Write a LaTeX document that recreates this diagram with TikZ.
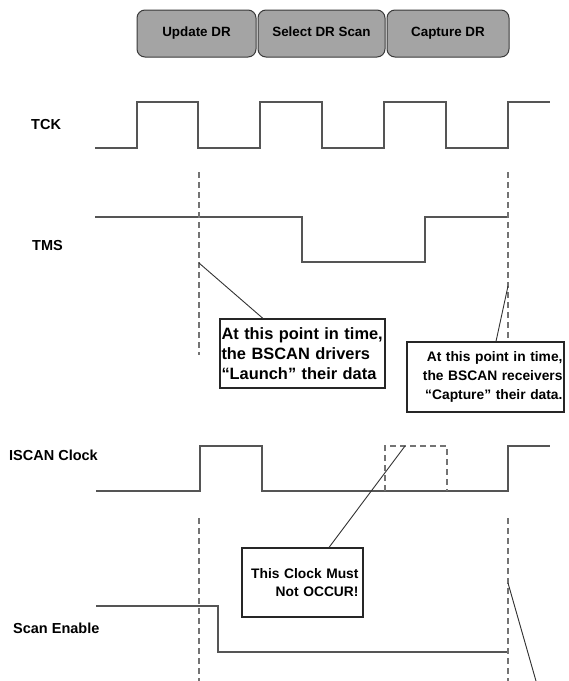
\documentclass[tikz,border=0pt]{standalone}
\usepackage{fontspec}
\setmainfont{Liberation Sans}
\usepackage{xcolor}
\usepackage{tikz}
\usetikzlibrary{positioning}
\definecolor{wavegray}{HTML}{555555}
\definecolor{statefill}{HTML}{A4A4A4}
\definecolor{edgegray}{HTML}{3A3A3A}

\begin{document}
\begin{tikzpicture}[
  x=1pt, y=-1pt,
  node distance=1pt,
  state/.style={draw=edgegray, line width=1pt, rounded corners=8pt, fill=statefill, minimum height=47pt, inner sep=0pt, text height=1.5ex, text depth=.3ex, font=\fontsize{13.4}{15}\selectfont\bfseries},
  lbl/.style={anchor=west, inner sep=0pt, font=\fontsize{14.5}{16}\selectfont\bfseries},
  note/.style={draw=black!85, line width=1.1pt, fill=white, inner xsep=1.5pt, inner ysep=3pt, font=\fontsize{13.8}{19}\selectfont\bfseries},
  wave/.style={draw=wavegray, line width=1.5pt},
  guide/.style={draw=black!55, line width=1.2pt, dash pattern=on 6pt off 4pt},
  callout/.style={draw=black!80, line width=0.9pt}
]
\useasboundingbox (0,0) rectangle (569,681);

% TAP states
\node[state, minimum width=119pt] (upd) at (196.5,33.5) {Update DR};
\node[state, minimum width=127pt, right=of upd] (sel) {Select DR Scan};
\node[state, minimum width=122pt, right=of sel] (cap) {Capture DR};

% signal names
\node[lbl] (tck) at (31,125) {TCK};
\node[lbl] (tms) at (32,246) {TMS};
\node[lbl] (isc) at (9,455) {ISCAN Clock};
\node[lbl] (sen) at (13,628) {Scan Enable};

% waveforms
\draw[wave] (95,148) -- (137,148) -- (137,102) -- (198,102) -- (198,148) -- (260,148) -- (260,102) -- (322,102) -- (322,148)
  -- (384,148) -- (384,102) -- (446,102) -- (446,148) -- (508,148) -- (508,102) -- (550,102);
\draw[wave] (95,217) -- (302,217) -- (302,262) -- (425,262) -- (425,217) -- (508,217);
\draw[wave] (96,491) -- (200,491) -- (200,446) -- (262,446) -- (262,491) -- (508,491) -- (508,446) -- (550,446);
\draw[guide] (385,491) -- (385,446) -- (447,446) -- (447,491);
\draw[wave] (96,606) -- (218,606) -- (218,652) -- (508,652);

% timing guides
\draw[guide] (199,172) -- (199,355);
\draw[guide] (508,172) -- (508,342);
\draw[guide] (199,518) -- (199,681);
\draw[guide] (508,518) -- (508,681);

% notes
\node[note, align=left, text width=162pt, minimum height=69pt, font=\fontsize{16.4}{20}\selectfont\bfseries] (drv) at (302.5,353.5)
  {At this point in time,\\the BSCAN drivers\\“Launch” their data};
\node[note, align=right, text width=154pt, minimum height=70pt] (rcv) at (485.5,377)
  {At this point in time,\\the BSCAN receivers\\“Capture” their data.};
\node[note, align=right, text width=112pt, minimum height=69pt, inner xsep=4.5pt, font=\fontsize{13.8}{18.5}\selectfont\bfseries] (noclk) at (302.5,582.5)
  {This Clock Must\\Not OCCUR!};

\coordinate (lnch) at (199,263);
\coordinate (cptr) at (508,286);
\coordinate (ghost) at (405,446);
\coordinate (seoff) at (508,583);
\coordinate (seout) at (536,681);
\draw[callout] (lnch) -- ([xshift=-39.5pt]drv.north);
\draw[callout] (cptr) -- ([xshift=10.5pt]rcv.north);
\draw[callout] (ghost) -- ([xshift=26.5pt]noclk.north);
\draw[callout] (seoff) -- (seout);
\end{tikzpicture}
\end{document}
